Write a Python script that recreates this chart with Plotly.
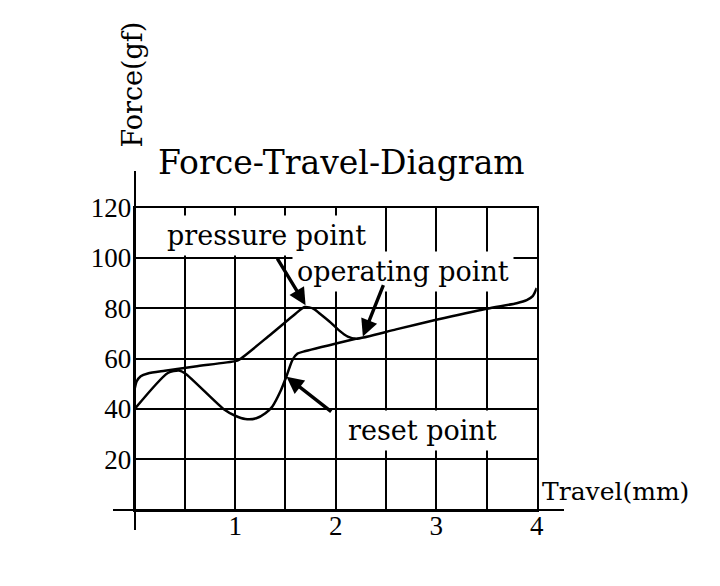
import plotly.graph_objects as go

# ---- data ----
press_x = [0, 0.02, 0.06, 0.13, 0.3, 0.6, 1.0, 1.04, 1.35, 1.6, 1.69, 1.78, 1.84, 1.95, 2.03, 2.12, 2.2, 2.6, 3.0, 3.5, 3.8, 3.9, 3.96, 4.0]
press_y = [48, 51, 53, 54.1, 55.2, 56.9, 59, 59.6, 69.5, 77.8, 80.5, 79.8, 77.9, 74.3, 71.3, 68.7, 67.9, 71.6, 75.4, 79.8, 82.0, 83.2, 84.8, 88]

release_x = [0, 0.33, 0.44, 0.5, 0.89, 1.0, 1.1, 1.21, 1.3, 1.37, 1.45, 1.51, 1.57, 1.62, 1.7, 2.2]
release_y = [40, 54.3, 55.3, 54.2, 39.8, 37.3, 36.0, 36.3, 38.3, 41.0, 47.0, 53.0, 59.5, 62.0, 63.0, 67.9]

x_tick_vals = [0, 0.5, 1, 1.5, 2, 2.5, 3, 3.5, 4]
x_tick_text = ["", "", "1", "", "2", "", "3", "", "4"]
y_tick_vals = [0, 20, 40, 60, 80, 100, 120]
y_tick_text = ["", "20", "40", "60", "80", "100", "120"]

labels = ["pressure point", "operating point", "reset point"]
label_x = [1.31, 2.665, 2.86]
label_y = [108.9, 94.7, 31.3]
head_x = [1.70, 2.27, 1.51]
head_y = [81.2, 68.8, 52.8]
tail_x = [1.41, 2.48, 1.97]
tail_y = [100.3, 89.8, 38.5]

title_text = "Force-Travel-Diagram"
x_title = "Travel(mm)"
y_title = "Force(gf)"

TEXT_FONT = dict(family="DejaVu Serif", size=27, color="black")
TICK_FONT = dict(family="Liberation Serif", size=27, color="black")

W, H = 720, 586
# page -> figure pixel compensation (measured from rendering)
def fx(sx):
    return (sx - 8.0) / 0.9926
def fy(sy):
    return (sy - 22.0) / 0.977
def px(sx):
    return fx(sx) / W
def py(sy):
    return 1 - fy(sy) / H

fig = go.Figure()
fig.add_trace(go.Scatter(x=press_x, y=press_y, mode="lines",
                         line=dict(color="black", width=2.5, shape="spline", smoothing=0.7),
                         hoverinfo="skip"))
fig.add_trace(go.Scatter(x=release_x, y=release_y, mode="lines",
                         line=dict(color="black", width=2.5, shape="spline", smoothing=0.7),
                         hoverinfo="skip"))
# helper subplot that carries the long axis lines (zerolines)
fig.add_trace(go.Scatter(x=[0], y=[0], mode="markers", marker=dict(size=1, opacity=0),
                         xaxis="x2", yaxis="y2", hoverinfo="skip"))

grid_style = dict(showgrid=True, gridcolor="black", gridwidth=2.2,
                  showline=True, mirror=True, linecolor="black", linewidth=2.2,
                  zeroline=False, ticks="", tickfont=TICK_FONT, fixedrange=True)

# long axis-line subplot: x from page px 113..565, y from page px 530..170
x2_lo = -22 / 100.75
x2_hi = 4 + 27 / 100.75
y2_lo = -20 / 2.525
y2_hi = 340 / 2.525

fig.update_layout(
    width=W, height=H,
    margin=dict(l=0, r=0, t=0, b=0),
    paper_bgcolor="white", plot_bgcolor="rgba(0,0,0,0)",
    showlegend=False,
    xaxis=dict(domain=[px(135), px(538)], range=[0, 4], tickmode="array",
               tickvals=x_tick_vals, ticktext=x_tick_text, anchor="y",
               ticklabelstandoff=-9, **grid_style),
    yaxis=dict(domain=[py(510), py(207)], range=[0, 120], tickmode="array",
               tickvals=y_tick_vals, ticktext=y_tick_text, anchor="x",
               ticklabelstandoff=-4, **grid_style),
    xaxis2=dict(domain=[px(113), px(565)], range=[x2_lo, x2_hi],
                anchor="y2", showgrid=False, showticklabels=False, showline=False,
                zeroline=True, zerolinecolor="black", zerolinewidth=2.2, fixedrange=True),
    yaxis2=dict(domain=[py(530), py(170)], range=[y2_lo, y2_hi],
                anchor="x2", showgrid=False, showticklabels=False, showline=False,
                zeroline=True, zerolinecolor="black", zerolinewidth=2.2, fixedrange=True),
)

annotations = []
# text labels first (white boxes hide grid), arrows drawn on top
for i in range(len(labels)):
    annotations.append(dict(x=label_x[i], y=label_y[i], xref="x", yref="y",
                            text=labels[i], showarrow=False, font=TEXT_FONT,
                            xanchor="center", yanchor="middle",
                            bgcolor="white", borderpad=4))
for i in range(len(labels)):
    annotations.append(dict(x=head_x[i], y=head_y[i], ax=tail_x[i], ay=tail_y[i],
                            xref="x", yref="y", axref="x", ayref="y", text="",
                            showarrow=True, arrowhead=2, arrowsize=1, arrowwidth=3.4,
                            arrowcolor="black"))
annotations.append(dict(x=px(342.5), y=py(162), xref="paper", yref="paper", text=title_text,
                        xanchor="center", yanchor="middle", showarrow=False,
                        font=dict(family="DejaVu Serif", size=33, color="black")))
annotations.append(dict(x=px(617), y=py(492), xref="paper", yref="paper", text=x_title,
                        xanchor="center", yanchor="middle", showarrow=False,
                        font=dict(family="DejaVu Serif", size=25, color="black")))
annotations.append(dict(x=px(133), y=py(84), xref="paper", yref="paper", text=y_title,
                        xanchor="center", yanchor="middle", textangle=-90,
                        showarrow=False, font=TEXT_FONT))
fig.update_layout(annotations=annotations)

fig.write_html("out.html")
